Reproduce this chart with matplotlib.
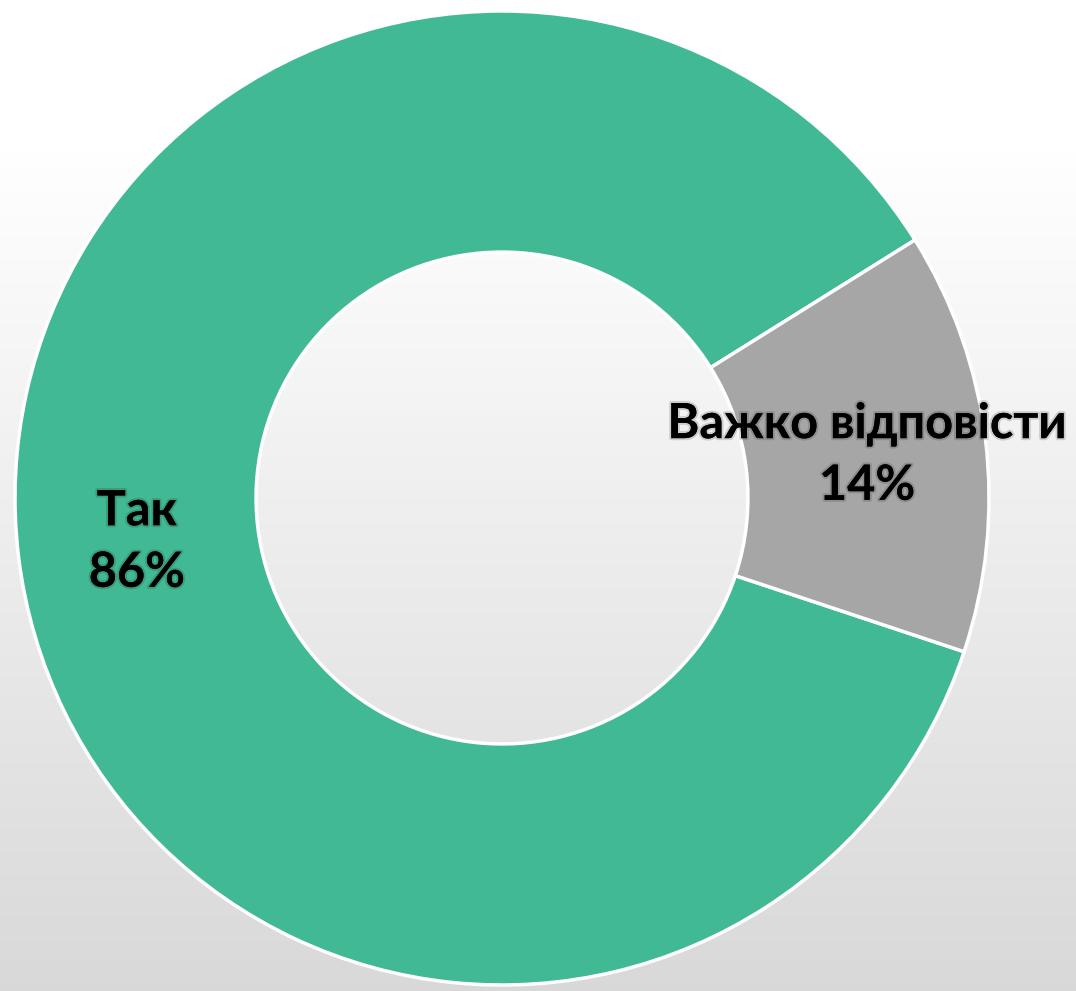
import matplotlib
matplotlib.use("Agg")
import matplotlib.pyplot as plt
import numpy as np
import matplotlib.patheffects as pe

categories = ["Так", "Важко відповісти"]
values = [86, 14]
colors = ["#42B995", "#A6A6A6"]

W, H, DPI = 1076, 991, 100
fig = plt.figure(figsize=(W / DPI, H / DPI), dpi=DPI)
ax = fig.add_axes([0, 0, 1, 1])

cx, cy, R = 502, 498, 487
xl = (-cx / R, (W - cx) / R)
yl = (-(H - cy) / R, cy / R)

# background gradient
grad = np.linspace(0, 1, 256).reshape(-1, 1)
top = np.array([1.0, 1.0, 1.0])
bot = np.array([0.85, 0.85, 0.85])
t = np.clip((grad - 0.15) / 0.85, 0, 1)
img = top * (1 - t[..., None]) + bot * t[..., None]
img = img.reshape(256, 1, 3)
ax.imshow(img, extent=[xl[0], xl[1], yl[0], yl[1]], origin="upper",
          aspect="auto", zorder=0)

labels = [f"{c}\n{v}%" for c, v in zip(categories, values)]
wedges, texts = ax.pie(values, colors=colors, startangle=32, counterclock=True,
                       radius=1.0, labels=labels, labeldistance=0.755,
                       wedgeprops=dict(width=0.495, edgecolor="white", linewidth=2.5),
                       textprops=dict(fontsize=35, fontweight="bold", family="Lato",
                                      color="black", linespacing=1.45))
for tx in texts:
    tx.set_horizontalalignment("center")
    tx.set_verticalalignment("center")
    tx.set_path_effects([pe.withStroke(linewidth=3, foreground=(0, 0, 0, 0.15))])

ax.set_xlim(*xl)
ax.set_ylim(*yl)
ax.set_aspect("auto")
ax.axis("off")

fig.savefig("out.png", dpi=DPI)
